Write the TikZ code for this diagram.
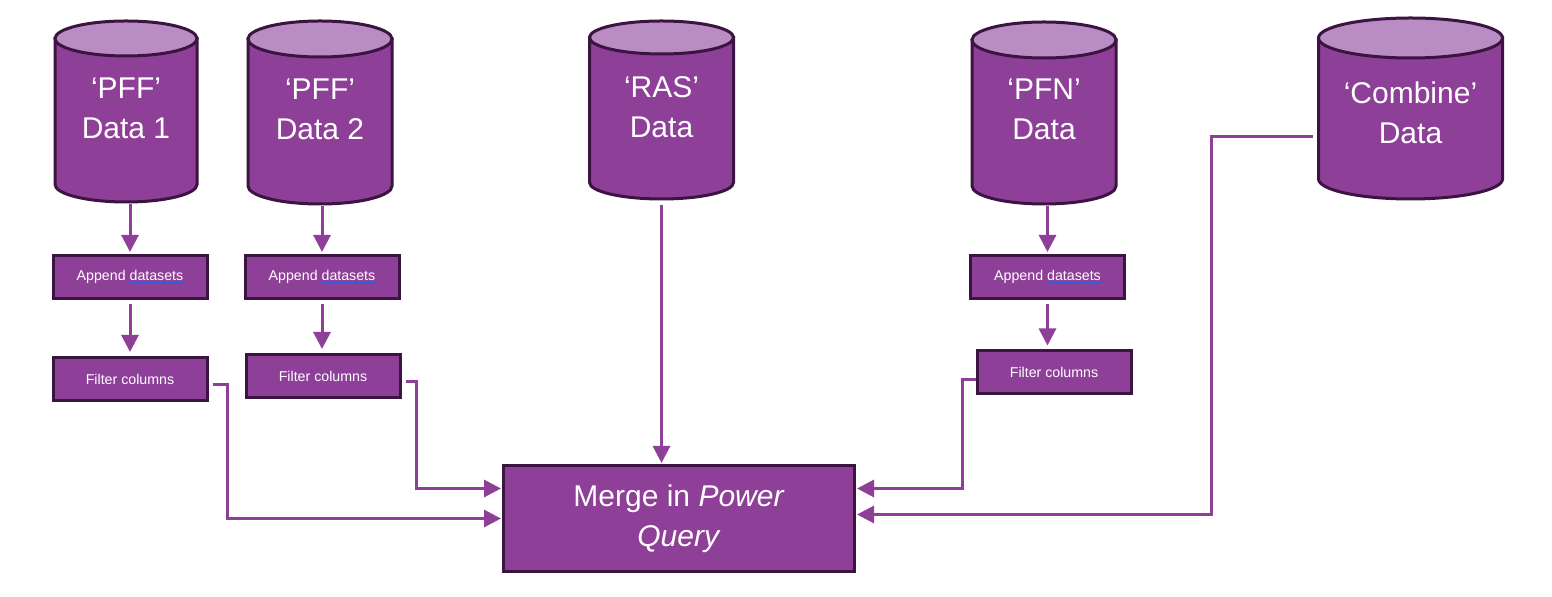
\documentclass[tikz,border=0pt]{standalone}
\usepackage{fontspec}
\setmainfont{Liberation Sans}
\usetikzlibrary{arrows.meta}

\definecolor{plum}{HTML}{8E4098}
\definecolor{plumlight}{HTML}{BA8CC4}
\definecolor{plumdark}{HTML}{3C1441}
\definecolor{spellblue}{HTML}{3A5BD9}

\tikzset{
  cylbody/.style={fill=plum, draw=plumdark, line width=1.5pt},
  cyltop/.style={fill=plumlight, draw=plumdark, line width=1.5pt},
  cylnode/.style={inner sep=0pt},
  cyltext/.style={inner sep=0pt, text=white, align=center,
    font=\fontsize{15}{20}\selectfont},
  stagebox/.style={draw=plumdark, fill=plum, line width=1.5pt, text=white,
    inner sep=0pt, minimum width=77pt, minimum height=21.5pt,
    font=\fontsize{7.1}{9}\selectfont},
  mergebox/.style={draw=plumdark, fill=plum, line width=1.5pt, text=white,
    align=center, inner sep=0pt, minimum width=175.5pt, minimum height=53pt,
    font=\fontsize{15}{20}\selectfont},
  flow/.style={draw=plum, line width=1.5pt,
    -{Triangle[length=8.5pt,width=8.5pt]}}
}

% spell-check mark under a word
\newcommand{\spellmark}[1]{\setbox0\hbox{#1}\rlap{\color{spellblue}\rule[-1.3pt]{\wd0}{0.6pt}}\box0}

% database drum: name, centre x, top, bottom, half width, end radius, label, label shift
\newcommand{\datacyl}[8]{%
  \path[cylbody] (#2-#5,-#3-#6) -- (#2-#5,-#4+#6)
    arc[start angle=180, end angle=360, x radius=#5*0.5pt, y radius=#6*0.5pt]
    -- (#2+#5,-#3-#6) -- cycle;
  \path[cyltop] (#2,-#3-#6) ellipse [x radius=#5*0.5pt, y radius=#6*0.5pt];
  \node[cylnode, minimum width=#5*1pt, minimum height=(#4-#3)*0.5pt,
    label={[cyltext, yshift=#8]center:{#7}}] (#1) at (#2,-#3/2-#4/2) {};}

\begin{document}
\begin{tikzpicture}[x=0.5pt, y=0.5pt]
  \useasboundingbox (0,0) rectangle (1552,-597);

  % data sources
  \datacyl{pff1}{126}{21}{202}{71}{17.5}{‘PFF’\\Data 1}{1.75pt}
  \datacyl{pff2}{320}{21}{204}{72}{18}{‘PFF’\\Data 2}{1.75pt}
  \datacyl{ras}{661.5}{21}{199}{72}{16.5}{‘RAS’\\Data}{1.5pt}
  \datacyl{pfn}{1044}{22}{204}{72}{18}{‘PFN’\\Data}{2pt}
  \datacyl{comb}{1410.5}{18}{199}{92}{20}{‘Combine’\\Data}{-2.25pt}

  % steps
  \node[stagebox] (app1) at (130,-277) {Append \spellmark{datasets}};
  \node[stagebox] (filt1) at (130,-379) {Filter columns};
  \node[stagebox] (app2) at (322,-277) {Append \spellmark{datasets}};
  \node[stagebox] (filt2) at (323,-376) {Filter columns};
  \node[stagebox] (app3) at (1047.5,-277) {Append \spellmark{datasets}};
  \node[stagebox] (filt3) at (1054,-372.5) {Filter columns};

  \node[mergebox] (merge) at (679,-518.5) {Merge in \textit{Power}\\\textit{Query}};

  \begin{scope}[flow]
    \draw[shorten <=1pt, shorten >=1pt] (app1.north |- pff1.south) -- (app1.north);
    \draw[shorten <=2pt, shorten >=2pt] (app1.south) -- (app1.south |- filt1.north);
    \draw[shorten <=1pt, shorten >=1pt] (app2.north |- pff2.south) -- (app2.north);
    \draw[shorten <=2pt, shorten >=2pt] (app2.south) -- (app2.south |- filt2.north);
    \draw[shorten <=1pt, shorten >=1pt] (app3.north |- pfn.south) -- (app3.north);
    \draw[shorten <=2pt, shorten >=2pt] (app3.south) -- (app3.south |- filt3.north);
    \draw[shorten <=3pt, shorten >=0.5pt] (ras.south) -- (ras.south |- merge.north);

    \draw[shorten >=0.5pt] ([xshift=2pt, yshift=-3pt]filt1.east) -- ++(15,0)
      |- (merge.west);
    \draw[shorten >=0.5pt] ([xshift=2pt, yshift=-3pt]filt2.east) -- ++(11,0)
      |- ([yshift=15pt]merge.west);
    \draw[shorten >=0.5pt] ([yshift=-3.5pt]filt3.west) -- ++(-13,0)
      |- ([yshift=15pt]merge.east);
    \draw[shorten >=0.5pt] ([xshift=-2.5pt, yshift=-14.25pt]comb.west) -- ++(-102,0)
      |- ([yshift=2pt]merge.east);
  \end{scope}
\end{tikzpicture}
\end{document}
